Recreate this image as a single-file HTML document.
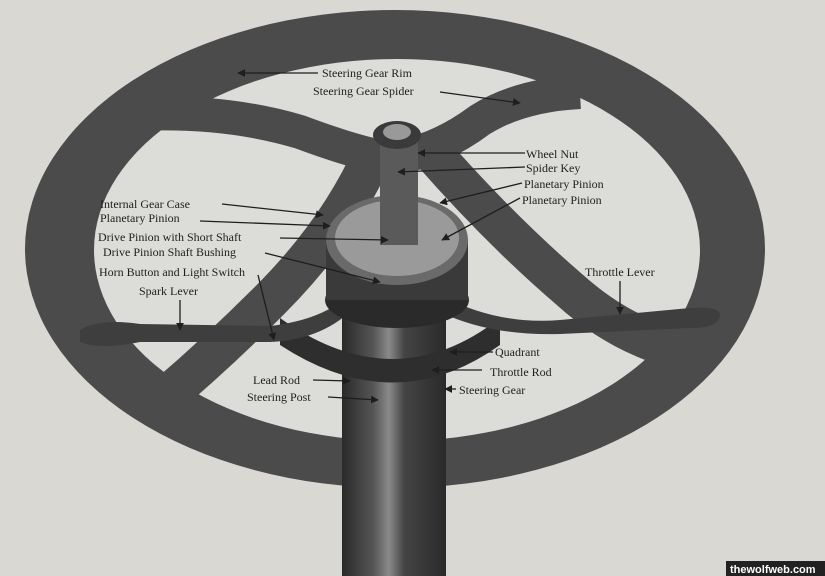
<!DOCTYPE html>
<html><head><style>
html,body{margin:0;padding:0;background:#d9d8d3;}
svg{display:block}
text{font-family:"Liberation Serif",serif;font-size:12px;fill:#1e1e1e;}
</style></head><body>
<svg width="825" height="576" viewBox="0 0 825 576" xmlns="http://www.w3.org/2000/svg">
<defs>
<marker id="a" viewBox="0 0 10 10" refX="9" refY="5" markerWidth="6" markerHeight="6" orient="auto"><path d="M0 0L10 5L0 10z" fill="#1e1e1e"/></marker>
<linearGradient id="col" x1="0" y1="0" x2="1" y2="0">
<stop offset="0" stop-color="#2a2a2a"/><stop offset="0.3" stop-color="#555"/><stop offset="0.45" stop-color="#8a8a8a"/><stop offset="0.6" stop-color="#444"/><stop offset="1" stop-color="#2a2a2a"/></linearGradient>
</defs>
<rect width="825" height="576" fill="#d9d8d3"/>
<!-- rim -->
<ellipse cx="395" cy="249" rx="370" ry="239" fill="#4b4b4b"/>
<ellipse cx="397" cy="250" rx="303" ry="191" fill="#dcdcd8"/>
<!-- spider -->
<g stroke="#4b4b4b" fill="none" stroke-linecap="butt">
<path d="M120 115 Q220 108 300 132 Q370 158 395 158 Q440 150 480 120 Q520 95 580 92" stroke-width="34"/>
<path d="M375 150 Q340 230 270 300 Q210 360 150 410" stroke-width="40"/>
<path d="M430 150 Q500 230 570 290 Q620 335 680 350" stroke-width="40"/>
</g>
<!-- column -->
<rect x="342" y="290" width="104" height="286" fill="url(#col)"/>
<!-- quadrant -->
<path d="M280 318 Q395 400 500 318 L500 345 Q395 420 280 345Z" fill="#2e2e2e"/>
<!-- levers -->
<path d="M80 330 Q100 318 140 324 L270 326 Q320 320 345 298 L352 310 Q320 340 270 342 L140 342 Q100 350 80 342Z" fill="#3e3e3e"/>
<path d="M446 298 Q500 325 560 320 L690 308 Q722 306 720 316 Q718 328 690 328 L560 334 Q490 336 440 312Z" fill="#3e3e3e"/>
<!-- hub -->
<ellipse cx="397" cy="300" rx="72" ry="28" fill="#2a2a2a"/>
<rect x="326" y="240" width="142" height="60" fill="#3a3a3a"/>
<ellipse cx="397" cy="240" rx="71" ry="45" fill="#6a6a6a"/>
<ellipse cx="397" cy="238" rx="62" ry="38" fill="#9a9a9a"/>
<rect x="380" y="130" width="38" height="115" fill="#5a5a5a"/>
<ellipse cx="397" cy="135" rx="24" ry="14" fill="#3a3a3a"/>
<ellipse cx="397" cy="132" rx="14" ry="8" fill="#999"/>
<!-- labels -->
<g stroke="#1e1e1e" stroke-width="1.3" fill="none" marker-end="url(#a)">
<line x1="318" y1="73" x2="238" y2="73"/><line x1="440" y1="92" x2="520" y2="103"/>
<line x1="525" y1="153" x2="418" y2="153"/><line x1="525" y1="167" x2="398" y2="172"/>
<line x1="522" y1="183" x2="440" y2="203"/><line x1="520" y1="198" x2="442" y2="240"/>
<line x1="222" y1="204" x2="323" y2="215"/><line x1="200" y1="221" x2="330" y2="226"/>
<line x1="280" y1="238" x2="388" y2="240"/><line x1="265" y1="253" x2="380" y2="282"/>
<line x1="258" y1="275" x2="274" y2="340"/><line x1="180" y1="300" x2="180" y2="330"/>
<line x1="620" y1="281" x2="620" y2="314"/><line x1="493" y1="352" x2="450" y2="352"/>
<line x1="482" y1="370" x2="432" y2="370"/><line x1="456" y1="389" x2="445" y2="389"/>
<line x1="313" y1="380" x2="350" y2="381"/><line x1="328" y1="397" x2="378" y2="400"/>
</g>
<text x="322" y="77">Steering Gear Rim</text>
<text x="313" y="95">Steering Gear Spider</text>
<text x="526" y="158">Wheel Nut</text>
<text x="526" y="172">Spider Key</text>
<text x="524" y="188">Planetary Pinion</text>
<text x="522" y="204">Planetary Pinion</text>
<text x="100" y="208">Internal Gear Case</text>
<text x="100" y="222">Planetary Pinion</text>
<text x="98" y="241">Drive Pinion with Short Shaft</text>
<text x="103" y="256">Drive Pinion Shaft Bushing</text>
<text x="99" y="276">Horn Button and Light Switch</text>
<text x="139" y="295">Spark Lever</text>
<text x="585" y="276">Throttle Lever</text>
<text x="495" y="356">Quadrant</text>
<text x="490" y="376">Throttle Rod</text>
<text x="459" y="394">Steering Gear</text>
<text x="253" y="384">Lead Rod</text>
<text x="247" y="401">Steering Post</text>
<rect x="726" y="561" width="99" height="15" fill="#222"/>
<text x="730" y="573" style="fill:#fff;font-family:'Liberation Sans',sans-serif;font-weight:bold;font-size:11px">thewolfweb.com</text>
</svg>
</body></html>
